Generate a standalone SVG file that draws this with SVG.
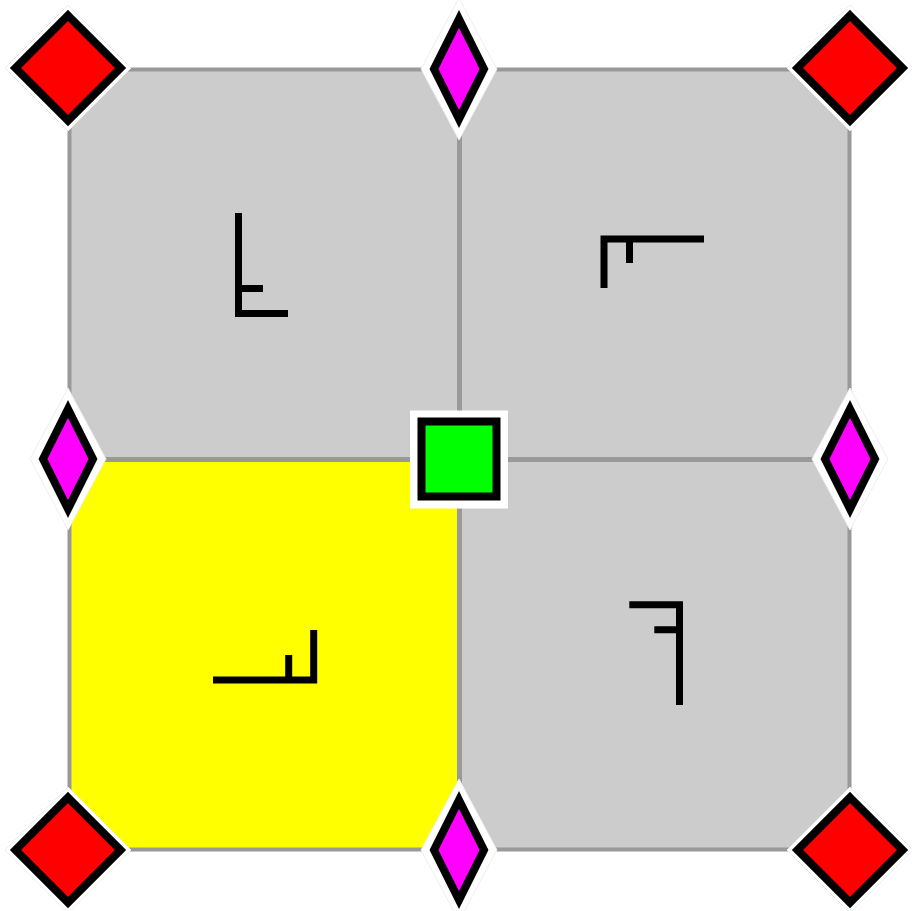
<svg xmlns="http://www.w3.org/2000/svg" width="912" height="911" viewBox="0 0 912 911">
<style>
.q{fill:#cccccc;stroke:#999999;stroke-width:4}
.qy{fill:#ffff00;stroke:#999999;stroke-width:4}
.g{fill:none;stroke:#000;stroke-width:7;stroke-linecap:butt;stroke-linejoin:miter}
.halo{fill:#fff;stroke:#eee;stroke-width:1}
.red{fill:#ff0000;stroke:#000;stroke-width:8;stroke-linejoin:miter}
.mag{fill:#ff00ff;stroke:#000;stroke-width:8;stroke-linejoin:miter;stroke-miterlimit:10}
.grn{fill:#00ff00;stroke:#000;stroke-width:8}
</style>
<rect width="912" height="911" fill="#fff"/>
<g id="quad-tl"><rect class="q" x="69.5" y="69.5" width="389.5" height="389.5"/><path class="g" d="M238.5,213 V313.5 H288 M238.5,288.5 H263"/></g>
<g id="quad-tr"><rect class="q" x="460" y="69.5" width="389.5" height="389.5"/><path class="g" d="M604,288 V239 H704 M629.5,239 V263"/></g>
<g id="quad-bl"><rect class="qy" x="69.5" y="460" width="389.5" height="389.5"/><path class="g" d="M213,680 H313.7 V630 M288.7,680 V655"/></g>
<g id="quad-br"><rect class="q" x="460" y="460" width="389.5" height="389.5"/><path class="g" d="M629.3,604.7 H679.5 V705 M654.3,629.7 H679.5"/></g>
<g id="corner-tl"><polygon class="halo" points="68,5 131,68 68,131 5,68"/><polygon class="red" points="68,15.5 120.5,68 68,120.5 15.5,68"/></g>
<g id="corner-tr"><polygon class="halo" points="850,5 913,68 850,131 787,68"/><polygon class="red" points="850,15.5 902.5,68 850,120.5 797.5,68"/></g>
<g id="corner-bl"><polygon class="halo" points="68,787 131,850 68,913 5,850"/><polygon class="red" points="68,797.5 120.5,850 68,902.5 15.5,850"/></g>
<g id="corner-br"><polygon class="halo" points="850,787 913,850 850,913 787,850"/><polygon class="red" points="850,797.5 902.5,850 850,902.5 797.5,850"/></g>
<g id="edge-top"><polygon class="halo" points="459,-2 497,69 459,140 421,69"/><polygon class="mag" points="459,19 484,69 459,119 434,69"/></g>
<g id="edge-bottom"><polygon class="halo" points="459,779 497,850 459,921 421,850"/><polygon class="mag" points="459,800 484,850 459,900 434,850"/></g>
<g id="edge-left"><polygon class="halo" points="68,388 106,459 68,530 30,459"/><polygon class="mag" points="68,409 93,459 68,509 43,459"/></g>
<g id="edge-right"><polygon class="halo" points="850,388 888,459 850,530 812,459"/><polygon class="mag" points="850,409 875,459 850,509 825,459"/></g>
<g id="center"><rect x="410" y="410.5" width="98" height="98" fill="#fff"/><rect class="grn" x="421.5" y="421.5" width="75" height="75"/></g>
</svg>
